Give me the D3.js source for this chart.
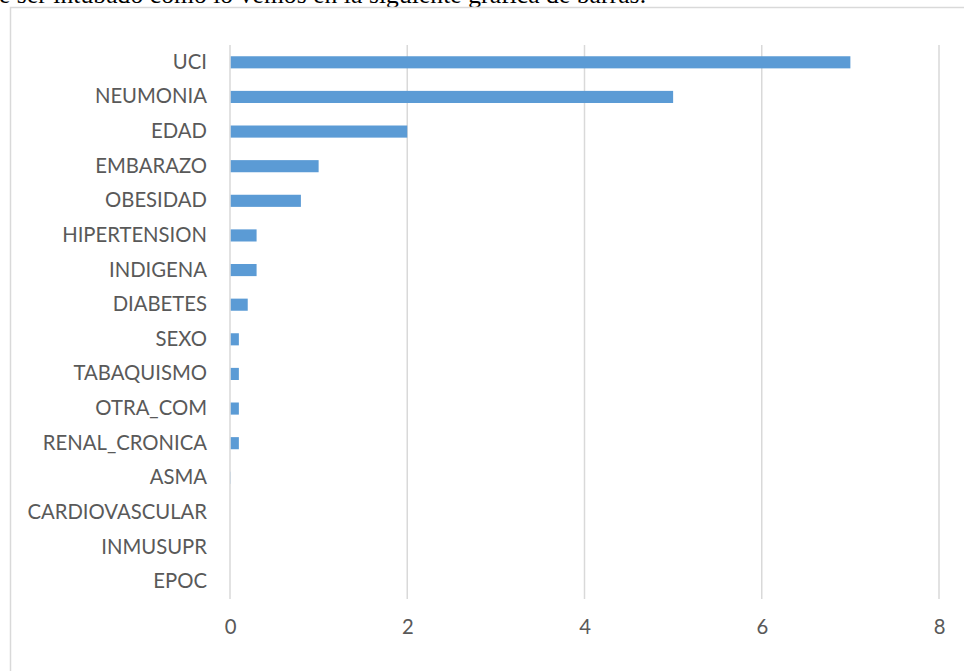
<!DOCTYPE html>
<html>
<head>
<meta charset="utf-8">
<script src="https://cdn.jsdelivr.net/npm/d3@7"></script>
<style>
html,body{margin:0;padding:0;background:#fff;overflow:hidden;}
svg{display:block;}
</style>
</head>
<body>
<svg id="chart" width="964" height="671"></svg>
<script>
const categories = ["UCI","NEUMONIA","EDAD","EMBARAZO","OBESIDAD","HIPERTENSION","INDIGENA","DIABETES","SEXO","TABAQUISMO","OTRA_COM","RENAL_CRONICA","ASMA","CARDIOVASCULAR","INMUSUPR","EPOC"];
const values = [7, 5, 2, 1, 0.8, 0.3, 0.3, 0.2, 0.1, 0.1, 0.1, 0.1, 0.01, 0, 0, 0];
const tickValues = [0, 2, 4, 6, 8];
const introText = "e ser intubado como lo vemos en la siguiente gráfica de barras.";

const svg = d3.select("#chart");
const font = "Lato, 'Open Sans', sans-serif";

// text above the chart (cut off at the top edge)
svg.append("text")
  .attr("x", -1).attr("y", 3)
  .attr("font-family", "'Liberation Serif', 'Times New Roman', serif")
  .attr("font-size", 25.5)
  .attr("textLength", 647)
  .attr("lengthAdjust", "spacing")
  .attr("fill", "#000")
  .text(introText);

// chart frame
svg.append("rect")
  .attr("x", 10.5).attr("y", 7.5)
  .attr("width", 1000).attr("height", 1000)
  .attr("fill", "none")
  .attr("stroke", "#d9d9d9")
  .attr("stroke-width", 1.5);

const x = d3.scaleLinear().domain([0, 8]).range([230, 939]);
const y = d3.scaleBand().domain(categories).range([45, 599]).paddingInner(0.65).paddingOuter(0.325);

// gridlines
svg.append("g").selectAll("line").data(tickValues).join("line")
  .attr("x1", d => x(d)).attr("x2", d => x(d))
  .attr("y1", 45).attr("y2", 599)
  .attr("stroke", "#d9d9d9").attr("stroke-width", 1.5);

// bars
svg.append("g").selectAll("rect").data(categories).join("rect")
  .attr("x", x(0) + 0.75)
  .attr("y", d => y(d))
  .attr("width", (d, i) => Math.max(0, x(values[i]) - x(0) - 0.75))
  .attr("height", y.bandwidth())
  .attr("fill", "#5b9bd5");

// category labels
const yAxis = d3.axisLeft(y).tickSize(0).tickPadding(0);
const gy = svg.append("g").attr("transform", "translate(207,0)").call(yAxis);
gy.select(".domain").remove();
gy.selectAll("text")
  .attr("font-family", font).attr("font-size", 20.3)
  .attr("fill", "#595959");

// x tick labels
const xAxis = d3.axisBottom(x).tickValues(tickValues).tickSize(0).tickPadding(0).tickFormat(d3.format("d"));
const gx = svg.append("g").attr("transform", "translate(0,620)").call(xAxis);
gx.select(".domain").remove();
gx.selectAll("text")
  .attr("font-family", font).attr("font-size", 20.3)
  .attr("fill", "#595959");
</script>
</body>
</html>
